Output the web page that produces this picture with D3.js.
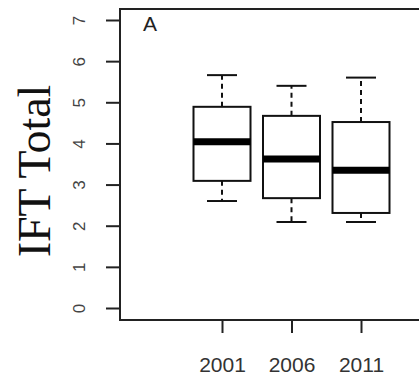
<!DOCTYPE html>
<html>
<head>
<meta charset="utf-8">
<script src="https://cdn.jsdelivr.net/npm/d3@7"></script>
<style>
  html, body { margin: 0; background: #fff; overflow: hidden; }
  svg { display: block; }
</style>
</head>
<body>
<svg id="chart" width="419" height="378"></svg>
<script>
// data
var years = ["2001", "2006", "2011"];
var lowWhisker = [2.6, 2.09, 2.09];
var q1 = [3.09, 2.67, 2.31];
var median = [4.04, 3.62, 3.35];
var q3 = [4.89, 4.67, 4.52];
var highWhisker = [5.66, 5.4, 5.6];
var yTicks = [0, 1, 2, 3, 4, 5, 6, 7];

var svg = d3.select("#chart");

var padL = 120, padR = 419, padT = 9, padB = 320;

var x = d3.scalePoint().domain(years).range([222, 361]);
var y = d3.scaleLinear().domain([0, 7]).range([308, 20]);

var boxW = 57, capW = 30;

// frame: top, left, bottom (right side runs off the picture)
[[padL - 1, padT, padR, padT], [padL, padT, padL, padB], [padL - 1, padB, padR, padB]].forEach(function(s) {
  svg.append("line")
    .attr("x1", s[0]).attr("y1", s[1]).attr("x2", s[2]).attr("y2", s[3])
    .attr("stroke", "#222").attr("stroke-width", 2);
});

// y axis
var yAxis = svg.append("g")
  .attr("transform", "translate(" + padL + ",0)")
  .call(d3.axisLeft(y).tickValues(yTicks).tickSize(14).tickPadding(0).tickFormat(d3.format("d")));
yAxis.select(".domain").remove();
yAxis.selectAll(".tick line").attr("stroke", "#222").attr("stroke-width", 2);
yAxis.selectAll(".tick text")
  .attr("x", 0).attr("y", 0).attr("dy", null)
  .attr("transform", "translate(-41,0) rotate(-90)")
  .attr("text-anchor", "middle").attr("dominant-baseline", "central")
  .style("font-family", "Liberation Sans, Arial, sans-serif")
  .style("font-size", "17px").attr("fill", "#444");

// x axis
var xAxis = svg.append("g")
  .attr("transform", "translate(0," + padB + ")")
  .call(d3.axisBottom(x).tickSize(13).tickPadding(0));
xAxis.select(".domain").remove();
xAxis.selectAll(".tick line").attr("stroke", "#222").attr("stroke-width", 2);
xAxis.selectAll(".tick text")
  .attr("y", 52).attr("dy", null)
  .style("font-family", "Liberation Sans, Arial, sans-serif")
  .style("font-size", "21px").attr("fill", "#333");

// boxes
var g = svg.append("g");
years.forEach(function(yr, i) {
  var cx = x(yr);
  // whiskers
  g.append("line").attr("x1", cx).attr("x2", cx)
    .attr("y1", y(q3[i])).attr("y2", y(highWhisker[i]))
    .attr("stroke", "#111").attr("stroke-width", 2).attr("stroke-dasharray", "5,4");
  g.append("line").attr("x1", cx).attr("x2", cx)
    .attr("y1", y(q1[i])).attr("y2", y(lowWhisker[i]))
    .attr("stroke", "#111").attr("stroke-width", 2).attr("stroke-dasharray", "5,4");
  // caps
  g.append("line").attr("x1", cx - capW / 2).attr("x2", cx + capW / 2)
    .attr("y1", y(highWhisker[i])).attr("y2", y(highWhisker[i]))
    .attr("stroke", "#111").attr("stroke-width", 2);
  g.append("line").attr("x1", cx - capW / 2).attr("x2", cx + capW / 2)
    .attr("y1", y(lowWhisker[i])).attr("y2", y(lowWhisker[i]))
    .attr("stroke", "#111").attr("stroke-width", 2);
  // box
  g.append("rect").attr("x", cx - boxW / 2).attr("y", y(q3[i]))
    .attr("width", boxW).attr("height", y(q1[i]) - y(q3[i]))
    .attr("fill", "#fff").attr("stroke", "#111").attr("stroke-width", 2);
  // median
  g.append("line").attr("x1", cx - boxW / 2).attr("x2", cx + boxW / 2)
    .attr("y1", y(median[i])).attr("y2", y(median[i]))
    .attr("stroke", "#000").attr("stroke-width", 7);
});

// panel letter
svg.append("text").attr("x", 143).attr("y", 31).text("A")
  .style("font-family", "Liberation Sans, Arial, sans-serif")
  .style("font-size", "21px").attr("fill", "#222");

// y title
svg.append("text")
  .attr("transform", "translate(50,171) rotate(-90)")
  .attr("text-anchor", "middle")
  .text("IFT Total")
  .style("font-family", "Liberation Serif, Times New Roman, serif")
  .style("font-size", "46px").attr("fill", "#111");
</script>
</body>
</html>
